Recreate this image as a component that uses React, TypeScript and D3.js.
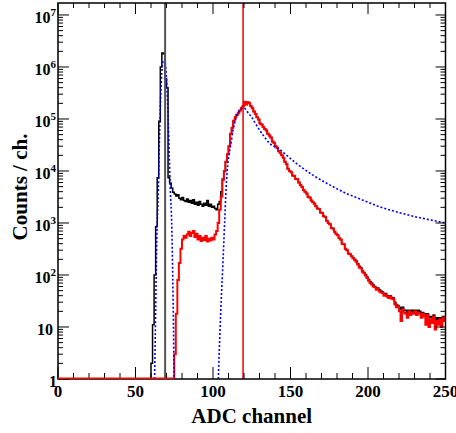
import React from "react";
import * as d3 from "d3";

// ---- data ----
const xDomain = [0, 250];
const yMin = 1;
const yMax = 1.7e7;
const xMajorTicks = [0, 50, 100, 150, 200, 250];
const yDecades = [0, 1, 2, 3, 4, 5, 6, 7];

// Total spectrum (black), channels 60..107
const blackStart = 60;
const blackHead = [
  2, 11, 100, 850, 7400, 90000, 1000000, 1850000, 1800000, 600000, 400000, 7400,
  5900, 4700, 3900, 3600, 3300, 3500, 3000, 2800, 3100, 2700, 2600, 2900, 2500, 2700,
  2400, 2800, 2300, 2500, 2200, 2600, 2300, 2100, 2400, 2200, 2700, 2100, 2300, 2000,
  2100, 1900, 1800, 2300, 2600, 4000, 7000, 10000,
];
// Selected spectrum (red), channels 75..107
const redStart = 75;
const redHead = [
  3, 18, 80, 170, 320, 480, 560, 520, 600, 680, 560, 640, 700, 540, 620, 480, 560, 450,
  520, 470, 560, 440, 500, 460, 520, 480, 600, 700, 1000, 1800, 3200, 6700, 9800,
];
// Channels 108..189 where both spectra coincide
const commonCounts = [
  15000, 21000, 30000, 52000, 68000, 92000, 108000, 120000, 132000, 145000, 160000,
  175000, 215000, 190000, 210000, 200000, 175000, 160000, 140000, 125000, 108000, 98000,
  82000, 78000, 70000, 64000, 60000, 52000, 48000, 44000, 37000, 35000, 30000, 28000,
  24000, 22500, 20000, 18000, 15000, 13500, 11000, 10000, 9500, 8200, 8000, 7000, 6900,
  6000, 5400, 5000, 4300, 4000, 3700, 3200, 3100, 2700, 2500, 2350, 2100, 1900, 1850,
  1600, 1550, 1350, 1300, 1100, 1000, 950, 800, 780, 680, 620, 580, 510, 480, 400, 390,
  320, 300, 260, 250, 230,
];
// Channels 190..249
const blackTail = [
  215, 200, 185, 165, 148, 140, 120, 112, 102, 92, 82, 74, 70, 64, 60, 56, 56, 52, 49, 47,
  43, 44, 40, 38, 40, 37, 36, 30, 27, 26, 24, 22, 24, 21, 21, 19, 21, 20, 21, 19, 21, 20,
  21, 20, 18, 19, 18, 16, 18, 15, 16, 15, 17, 14, 15, 14, 15, 13, 16, 15,
];
const redTail = [
  210, 195, 180, 160, 140, 135, 115, 108, 98, 88, 78, 70, 66, 60, 58, 52, 54, 48, 46, 45,
  40, 42, 38, 36, 39, 35, 34, 27, 24, 25, 20, 13, 22, 19, 18, 15, 20, 17, 19, 18, 20, 17,
  19, 18, 15, 18, 16, 11, 17, 10, 14, 12, 16, 9, 13, 11, 14, 10, 15, 13,
];

// Fit function (blue dotted), sampled
const fitPeak1X = [62.3, 63.0, 63.6, 64.2, 64.6, 65.2, 65.7, 66.3, 67.0, 67.8, 68.5, 69.2, 70.0, 70.6, 71.1, 71.8, 72.5, 73.3, 74.0, 74.5, 74.9];
const fitPeak1Y = [1, 20, 300, 1500, 3000, 20000, 80000, 300000, 800000, 1300000, 1400000, 1200000, 600000, 250000, 100000, 20000, 4000, 1100, 100, 10, 1];
const fitPeak2X = [103.4, 105, 106.5, 107.5, 108.5, 109.5, 110.5, 111.5, 113, 115.1, 117.3, 119.4, 121, 122.6, 125, 128, 132.3, 136.6, 143, 148.4, 153.8, 164.5, 175.3, 186, 196.7, 207.5, 218, 229, 240, 250];
const fitPeak2Y = [1, 20, 200, 1000, 5000, 13000, 22000, 32000, 62000, 110000, 148000, 162000, 155000, 132000, 108000, 76000, 49000, 34000, 26000, 19000, 14000, 8300, 5400, 3700, 2750, 2050, 1650, 1350, 1150, 1000];

// Marker lines
const markerGray = 69.1;
const markerRed = 119.4;

const xTitle = "ADC channel";
const yTitle = "Counts / ch.";

// ---- helpers ----
function buildHist(start: number, parts: number[][]): number[] {
  const arr = new Array(250).fill(0);
  let c = start;
  for (const p of parts) for (const v of p) { arr[c++] = v; }
  return arr;
}

const blackCounts = buildHist(blackStart, [blackHead, commonCounts, blackTail]);
const redCounts = buildHist(redStart, [redHead, commonCounts, redTail]);

const L = 58, R = 445.5, T = 3, B = 379;

export default function App() {
  const x = d3.scaleLinear().domain(xDomain).range([L, R]);
  const y = d3.scaleLog().domain([yMin, yMax]).range([B, T]).clamp(true);
  const yv = (v: number) => y(Math.max(v, yMin));

  const stepPath = (counts: number[]) => {
    const pts: [number, number][] = counts.map((v, i) => [i, v]);
    pts.push([250, counts[249]]);
    return d3
      .line<[number, number]>()
      .x((d) => x(d[0]))
      .y((d) => yv(d[1]))
      .curve(d3.curveStepAfter)(pts) as string;
  };

  const fitLine = d3
    .line<[number, number]>()
    .x((d) => x(d[0]))
    .y((d) => yv(d[1]))
    .curve(d3.curveMonotoneX);
  const fit1 = fitLine(fitPeak1X.map((v, i) => [v, fitPeak1Y[i]] as [number, number])) as string;
  const fit2 = fitLine(fitPeak2X.map((v, i) => [v, fitPeak2Y[i]] as [number, number])) as string;

  const xMinor = d3.range(0, 251, 10);
  const yMinor: number[] = [];
  for (const d of yDecades) {
    for (let m = 2; m <= 9; m++) {
      const v = m * Math.pow(10, d);
      if (v <= yMax) yMinor.push(v);
    }
  }

  const font = "'Liberation Serif', 'Times New Roman', serif";

  return (
    <svg width={456} height={433} style={{ position: "absolute", left: 0, top: 0, background: "#fff" }}>
      <defs>
        <clipPath id="plotclip">
          <rect x={L} y={T} width={R - L} height={B - T} />
        </clipPath>
      </defs>
      <rect x={0} y={0} width={456} height={433} fill="#fff" />
      <g clipPath="url(#plotclip)">
        <path d={stepPath(blackCounts)} fill="none" stroke="#000" strokeWidth={1.5} />
        <path d={stepPath(redCounts)} fill="none" stroke="#ff0000" strokeWidth={2} />
        <path d={fit1} fill="none" stroke="#0000ff" strokeWidth={1.6} strokeDasharray="2 2" />
        <path d={fit2} fill="none" stroke="#0000ff" strokeWidth={1.6} strokeDasharray="2 2" />
        <line x1={x(markerGray)} x2={x(markerGray)} y1={T} y2={B} stroke="#555" strokeWidth={2} />
        <line x1={x(markerRed)} x2={x(markerRed)} y1={T} y2={B} stroke="#ee0000" strokeWidth={1.5} />
      </g>
      {/* ticks */}
      <g stroke="#000" strokeWidth={1}>
        {xMinor.map((t) => {
          const major = t % 50 === 0;
          const len = major ? 12 : 6;
          return (
            <g key={"xt" + t}>
              <line x1={x(t)} x2={x(t)} y1={B} y2={B - len} />
              <line x1={x(t)} x2={x(t)} y1={T} y2={T + (major ? 11 : 5)} />
            </g>
          );
        })}
        {yDecades.map((d) => {
          const v = Math.pow(10, d);
          return (
            <g key={"yM" + d}>
              <line x1={L} x2={L + 11} y1={y(v)} y2={y(v)} />
              <line x1={R} x2={R - 10} y1={y(v)} y2={y(v)} />
            </g>
          );
        })}
        {yMinor.map((v, i) => (
          <g key={"ym" + i}>
            <line x1={L} x2={L + 5} y1={y(v)} y2={y(v)} />
            <line x1={R} x2={R - 5} y1={y(v)} y2={y(v)} />
          </g>
        ))}
      </g>
      <rect x={L} y={T} width={R - L} height={B - T} fill="none" stroke="#000" strokeWidth={1.5} />
      {/* red zero line on top of frame bottom */}
      <g clipPath="url(#plotclip)">
        <line x1={L} x2={x(redStart)} y1={B - 0.5} y2={B - 0.5} stroke="#ff0000" strokeWidth={2} />
      </g>
      {/* x labels */}
      <g fontFamily={font} fontWeight="bold" fontSize={17} textAnchor="middle">
        {xMajorTicks.map((t) => (
          <text key={"xl" + t} x={x(t)} y={397}>{t}</text>
        ))}
      </g>
      {/* y labels */}
      <g fontFamily={font} fontWeight="bold" fontSize={16} textAnchor="end">
        {yDecades.map((d) => {
          const yy = y(Math.pow(10, d)) + 8;
          if (d === 0) return <text key="yl0" x={57} y={yy}>1</text>;
          if (d === 1) return <text key="yl1" x={53} y={yy}>10</text>;
          return (
            <text key={"yl" + d} x={56} y={yy}>
              10<tspan fontSize={11} dy={-7}>{d}</tspan>
            </text>
          );
        })}
      </g>
      <text x={(L + R) / 2} y={423} fontFamily={font} fontWeight="bold" fontSize={21} textAnchor="middle">{xTitle}</text>
      <text transform={`translate(27,187) rotate(-90)`} fontFamily={font} fontWeight="bold" fontSize={21} textAnchor="middle">{yTitle}</text>
    </svg>
  );
}
